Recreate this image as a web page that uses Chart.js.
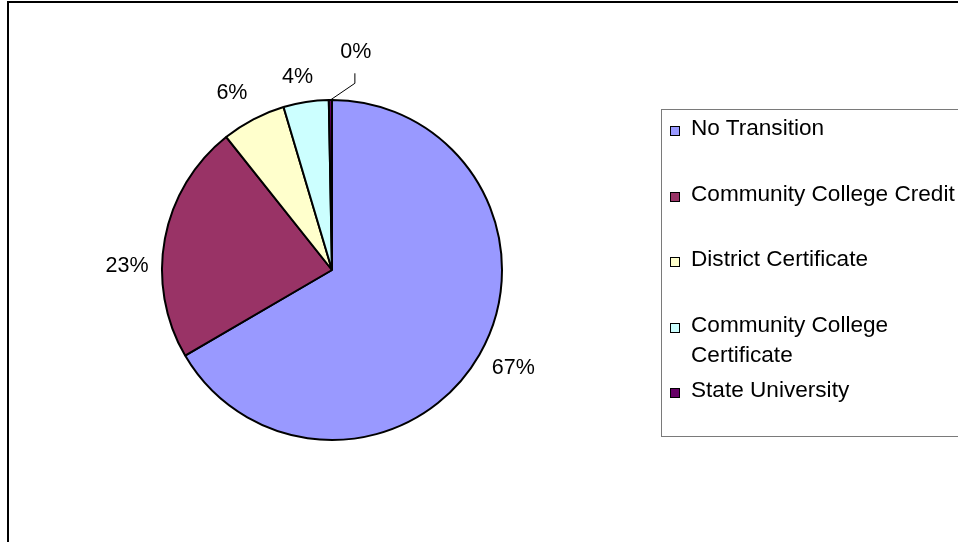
<!DOCTYPE html>
<html lang="en">
<head>
  <meta charset="UTF-8">
  <title>Transition outcomes</title>
  <style>
    html, body { margin: 0; padding: 0; background: #fff; overflow: hidden; }
    body { width: 958px; height: 542px; position: relative; font-family: "Liberation Sans", Arial, sans-serif; }
    .frame { position: absolute; left: 7px; top: 1px; width: 1000px; height: 600px; border-left: 2px solid #000; border-top: 2px solid #000; }
    .chart-container { position: absolute; left: 0; top: 0; width: 958px; height: 542px; }
    .legend { position: absolute; left: 661px; top: 109px; width: 320px; height: 326px; border: 1.5px solid #7a7a7a; }
    .legend .item { position: absolute; left: 0; font-size: 22.6px; line-height: 30px; color: #000; }
    .legend .box { position: absolute; left: 8px; width: 8px; height: 8px; border: 1px solid #000; }
    .legend .text { position: absolute; left: 29px; width: 272px; }
  </style>
</head>
<body>
  <div class="frame"></div>
  <div class="chart-container">
    <canvas id="pieChart" width="958" height="542"></canvas>
  </div>
  <div class="legend" id="legend"></div>

  <script src="https://cdn.jsdelivr.net/npm/chart.js"></script>
  <script>
    const categories = ['No Transition', 'Community College Credit', 'District Certificate', 'Community College Certificate', 'State University'];
    const shares = [66.6, 22.7, 6.1, 4.3, 0.3];
    const colors = ['#9999FF', '#993366', '#FFFFCC', '#CCFFFF', '#660066'];

    // percent labels outside the pie, Excel style
    const outsideLabels = {
      id: 'outsideLabels',
      afterDatasetsDraw(chart, args, opts) {
        const ctx = chart.ctx;
        const meta = chart.getDatasetMeta(0);
        const total = shares.reduce((a, b) => a + b, 0);
        ctx.save();
        ctx.font = '21.5px "Liberation Sans", Arial, sans-serif';
        ctx.fillStyle = '#000';
        ctx.textAlign = 'center';
        ctx.textBaseline = 'middle';
        meta.data.forEach((arc, i) => {
          const mid = (arc.startAngle + arc.endAngle) / 2 + (opts.shift[i] || 0) * Math.PI / 180;
          const d = opts.dist[i];
          const x = arc.x + Math.cos(mid) * d;
          const y = arc.y + Math.sin(mid) * d;
          ctx.fillText(Math.round(shares[i] / total * 100) + '%', x, y);
          if (opts.leader[i]) {
            const a0 = (arc.startAngle + arc.endAngle) / 2;
            ctx.beginPath();
            ctx.lineWidth = 1;
            ctx.strokeStyle = '#000';
            ctx.moveTo(arc.x + Math.cos(a0) * arc.outerRadius, arc.y + Math.sin(a0) * arc.outerRadius);
            ctx.lineTo(x - 1, y + 31);
            ctx.lineTo(x - 1, y + 21);
            ctx.stroke();
          }
        });
        ctx.restore();
      }
    };

    const ctx = document.getElementById('pieChart').getContext('2d');
    const chart = new Chart(ctx, {
      type: 'pie',
      data: {
        labels: categories,
        datasets: [{
          data: shares,
          backgroundColor: colors,
          borderColor: '#000',
          borderWidth: 2
        }]
      },
      options: {
        responsive: false,
        animation: false,
        layout: { padding: { left: 161, top: 99, right: 455, bottom: 101 } },
        plugins: {
          legend: { display: false },
          tooltip: { enabled: false },
          outsideLabels: {
            dist: [206, 205, 203, 196, 219],
            shift: [-1.5, -9.5, -2, -1.3, 6.8],
            leader: [false, false, false, false, true]
          }
        }
      },
      plugins: [outsideLabels]
    });

    // legend box
    const legend = document.getElementById('legend');
    categories.forEach((name, i) => {
      const item = document.createElement('div');
      item.className = 'item';
      item.style.top = (3 + i * 65.5) + 'px';
      item.innerHTML = '<span class="box" style="top:13px;background:' + colors[i] + '"></span>' +
        '<span class="text">' + name + '</span>';
      legend.appendChild(item);
    });
  </script>
</body>
</html>
